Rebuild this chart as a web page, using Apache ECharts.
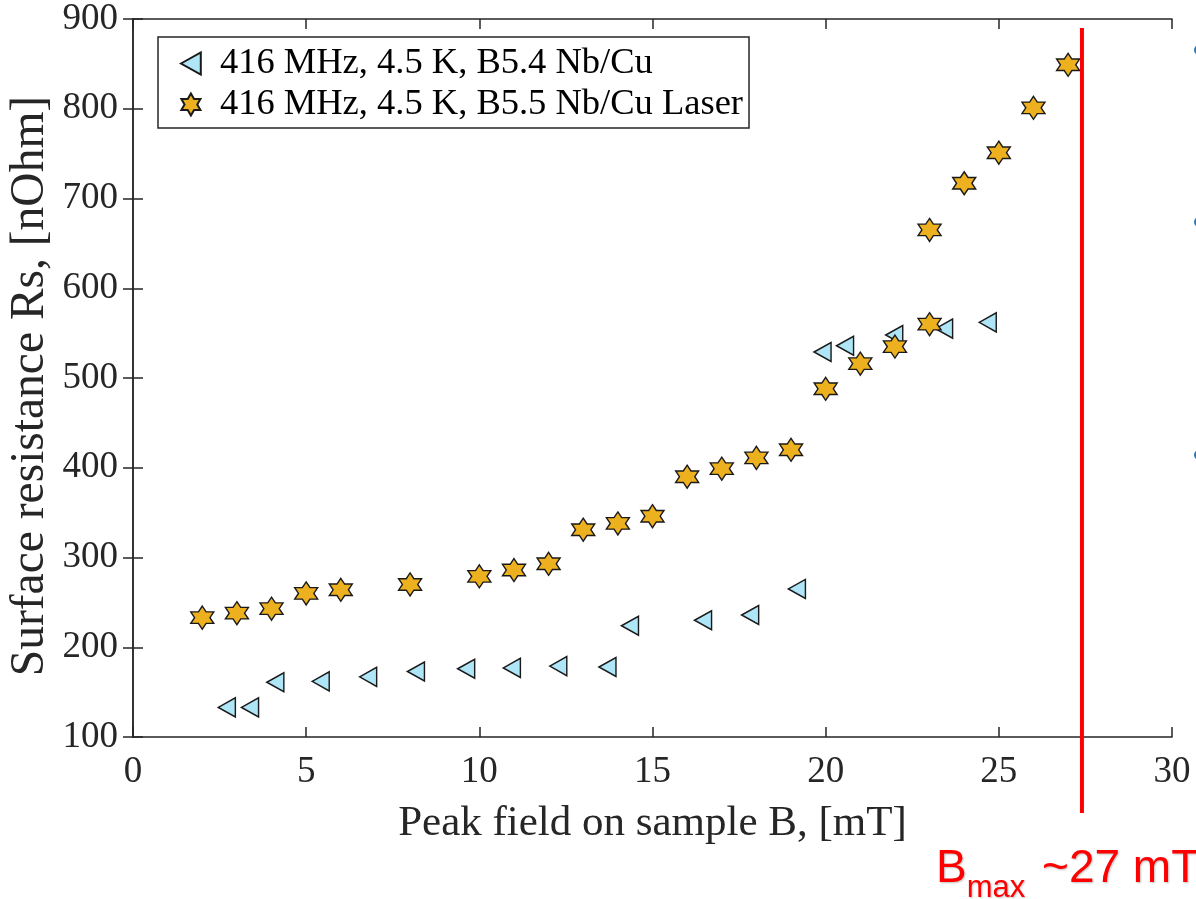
<!DOCTYPE html>
<html>
<head>
<meta charset="utf-8">
<script src="https://cdn.jsdelivr.net/npm/echarts@6/dist/echarts.min.js"></script>
<style>
html,body{margin:0;padding:0;background:#fff;}
#c{width:1196px;height:899px;}
</style>
</head>
<body>
<div id="c"></div>
<script>
// ---- data ----
const seriesNames = ['416 MHz, 4.5 K, B5.4 Nb/Cu', '416 MHz, 4.5 K, B5.5 Nb/Cu Laser'];
const b54X = [2.71, 3.38, 4.11, 5.42, 6.79, 8.17, 9.62, 10.94, 12.28, 13.7, 14.35, 16.46, 17.82, 19.17, 19.91, 20.56, 21.98, 23.42, 24.68];
const b54Y = [133, 133, 161, 162, 167, 173, 176, 177, 179, 178, 224, 230, 236, 265, 529, 536, 548, 555, 562];
const b55X = [2, 3, 4, 5, 6, 8, 10, 11, 12, 13, 14, 15, 16, 17, 18, 19, 20, 21, 22, 23, 23, 24, 25, 26, 27];
const b55Y = [233, 238, 243, 260, 264, 270, 279, 286, 293, 331, 338, 346, 390, 399, 411, 420, 488, 516, 535, 560, 665, 717, 751, 801, 849];
const xTicks = [0, 5, 10, 15, 20, 25, 30];
const yTicks = [100, 200, 300, 400, 500, 600, 700, 800, 900];
const bMax = 27.4;
const bMaxLabel = ['B', 'max', ' ~27 mT'];
const xTitle = 'Peak field on sample B, [mT]';
const yTitle = 'Surface resistance Rs, [nOhm]';

// hexagram symbol path
function hexagram() {
  const R = 100, r = R / Math.sqrt(3);
  let pts = [];
  for (let k = 0; k < 12; k++) {
    const ang = (-90 + 30 * k) * Math.PI / 180;
    const rad = k % 2 === 0 ? R : r;
    pts.push([(R + rad * Math.cos(ang)).toFixed(2), (R + rad * Math.sin(ang)).toFixed(2)]);
  }
  return 'path://M' + pts.map(p => p.join(',')).join('L') + 'Z';
}
const leftTriangle = 'path://M0,50L90,0L90,100Z';

const serif = '"Liberation Serif", "Times New Roman", serif';
const axisCol = '#262626';
const chart = echarts.init(document.getElementById('c'), null, {renderer: 'canvas'});

const commonAxisLine = {show: true, lineStyle: {color: axisCol, width: 1.5}};
const commonTick = {show: true, inside: true, length: 10, lineStyle: {color: axisCol, width: 1.5}};

const option = {
  animation: false,
  backgroundColor: '#fff',
  grid: {left: 133, right: 24, top: 19, bottom: 162, containLabel: false, outerBoundsMode: 'none'},
  legend: {
    left: 158, top: 37,
    orient: 'vertical',
    backgroundColor: '#fff',
    borderColor: axisCol, borderWidth: 1.5,
    padding: [8, 6, 5, 22],
    itemGap: 4,
    itemWidth: 22, itemHeight: 22,
    textStyle: {fontFamily: serif, fontSize: 36.5, color: '#000', padding: [0, 0, 0, 13], lineHeight: 37},
    data: seriesNames
  },
  xAxis: [{
    type: 'value', min: xTicks[0], max: xTicks[xTicks.length - 1], interval: xTicks[1] - xTicks[0],
    position: 'bottom',
    name: xTitle, nameLocation: 'middle', nameGap: 65, nameMoveOverlap: false,
    nameTextStyle: {fontFamily: serif, fontSize: 43, color: axisCol},
    axisLine: commonAxisLine, axisTick: commonTick,
    axisLabel: {fontFamily: serif, fontSize: 37, color: axisCol, margin: 17},
    splitLine: {show: false}
  }, {
    type: 'value', min: xTicks[0], max: xTicks[xTicks.length - 1], interval: xTicks[1] - xTicks[0],
    position: 'top',
    axisLine: commonAxisLine, axisTick: commonTick,
    axisLabel: {show: false}, splitLine: {show: false}
  }],
  yAxis: [{
    type: 'value', min: yTicks[0], max: yTicks[yTicks.length - 1], interval: yTicks[1] - yTicks[0],
    position: 'left',
    name: yTitle, nameLocation: 'middle', nameGap: 78, nameRotate: 90, nameMoveOverlap: false,
    nameTextStyle: {fontFamily: serif, fontSize: 47.5, color: axisCol, padding: [0, 16, 0, 0]},
    axisLine: commonAxisLine, axisTick: commonTick,
    axisLabel: {fontFamily: serif, fontSize: 37, color: axisCol, margin: 15},
    splitLine: {show: false}
  }, {
    type: 'value', min: yTicks[0], max: yTicks[yTicks.length - 1], interval: yTicks[1] - yTicks[0],
    position: 'right',
    axisLine: commonAxisLine, axisTick: commonTick,
    axisLabel: {show: false}, splitLine: {show: false}
  }],
  series: [{
    name: seriesNames[0], type: 'scatter',
    data: b54X.map((x, i) => [x, b54Y[i]]),
    symbol: leftTriangle, symbolSize: [17, 19],
    itemStyle: {color: '#aee6f7', borderColor: '#1a1a1a', borderWidth: 1.5, opacity: 1},
    z: 3
  }, {
    name: seriesNames[1], type: 'scatter',
    data: b55X.map((x, i) => [x, b55Y[i]]),
    symbol: hexagram(), symbolSize: 23,
    itemStyle: {color: '#edb120', borderColor: '#1a1a1a', borderWidth: 1.4, opacity: 1},
    z: 4
  }]
};
chart.setOption(option);

const px = chart.convertToPixel({xAxisIndex: 0}, bMax);
const yTop = chart.convertToPixel({yAxisIndex: 0}, 890);
chart.setOption({
  graphic: [
    {type: 'line', shape: {x1: px, y1: yTop, x2: px, y2: 813}, style: {stroke: '#ff0000', lineWidth: 4}, z: 10},
    {type: 'text', left: 936, top: 846, z: 10,
      style: {
        text: '{b|' + bMaxLabel[0] + '}{s|' + bMaxLabel[1] + '}{b|' + bMaxLabel[2] + '}',
        rich: {
          b: {fontFamily: '"Liberation Sans", Arial, sans-serif', fontSize: 46, fill: '#ff0000', verticalAlign: 'bottom', textShadowColor: 'rgba(0,0,0,0.25)', textShadowBlur: 2, textShadowOffsetX: 1, textShadowOffsetY: 1},
          s: {fontFamily: '"Liberation Sans", Arial, sans-serif', fontSize: 31, fill: '#ff0000', padding: [0, 4, -12, 0], verticalAlign: 'bottom', textShadowColor: 'rgba(0,0,0,0.25)', textShadowBlur: 2, textShadowOffsetX: 1, textShadowOffsetY: 1}
        }
      }
    },
    {type: 'circle', shape: {cx: 1199, cy: 50, r: 5}, style: {fill: '#2e75b6'}},
    {type: 'circle', shape: {cx: 1199, cy: 222, r: 5}, style: {fill: '#2e75b6'}},
    {type: 'circle', shape: {cx: 1199, cy: 455, r: 5}, style: {fill: '#2e75b6'}}
  ]
});
</script>
</body>
</html>
